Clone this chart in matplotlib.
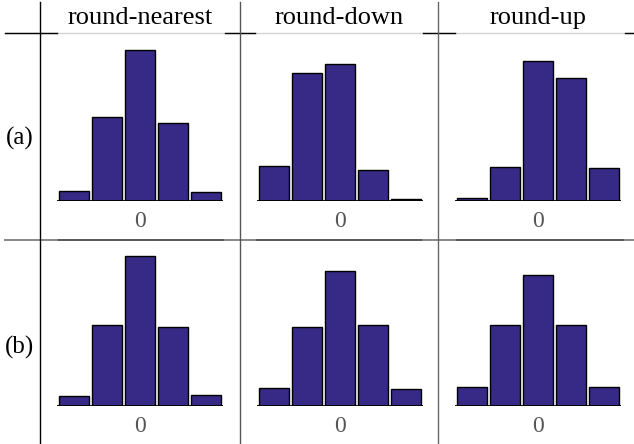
import numpy as np
import matplotlib
matplotlib.use("Agg")
import matplotlib.pyplot as plt
from matplotlib.lines import Line2D

plt.rcParams['font.family'] = ['Liberation Serif', 'DejaVu Serif']

columns = ['round-nearest', 'round-down', 'round-up']
rows = ['(a)', '(b)']
bins = [-2, -1, 0, 1, 2]

# bar heights (arbitrary units)
a_nearest = [10, 84, 151, 78, 9]
a_down = [35, 128, 137, 31, 2]
a_up = [3, 34, 140, 123, 33]
b_nearest = [10, 81, 150, 79, 11]
b_down = [18, 79, 135, 81, 17]
b_up = [19, 81, 131, 81, 19]

data = [[a_nearest, a_down, a_up],
        [b_nearest, b_down, b_up]]

W, H = 634, 444
fig = plt.figure(figsize=(W/100, H/100), dpi=100)

def fx(x):
    return x / W

def fy(y):
    return 1 - y / H

bar_color = '#362a86'
cell_left = [57, 257, 455]
baselines = [201, 406]
col_center = [140, 339, 538]
row_center = [138, 347]

for i in range(2):
    for j in range(3):
        ax = fig.add_axes([fx(cell_left[j]), fy(baselines[i]), 166/W, 160/H])
        ax.bar(bins, data[i][j], width=0.9, color=bar_color,
               edgecolor='black', linewidth=1.0, zorder=2)
        ax.axhline(0, color='black', lw=1.3, zorder=3)
        ax.set_xlim(-2.5, 2.5)
        ax.set_ylim(0, 160)
        ax.set_xticks([0])
        ax.set_xticklabels(['0'], color='#555555', fontsize=17)
        ax.tick_params(axis='x', length=0, pad=7)
        ax.set_yticks([])
        for s in ax.spines.values():
            s.set_visible(False)
        ax.patch.set_visible(False)

for j, name in enumerate(columns):
    fig.text(fx(col_center[j]), fy(24), name, ha='center', va='baseline', fontsize=19)
for i, name in enumerate(rows):
    fig.text(fx(20), fy(row_center[i]), name, ha='center', va='center', fontsize=18)

def hline(y, x0, x1, color, lw=1.0):
    fig.add_artist(Line2D([fx(x0), fx(x1)], [fy(y), fy(y)], color=color, lw=lw))

def vline(x, y0, y1, color, lw=1.0):
    fig.add_artist(Line2D([fx(x), fx(x)], [fy(y0), fy(y1)], color=color, lw=lw))

segs = [(5, 57), (225, 255), (423, 455), (625, 634)]

hline(33, 5, 634, '#d4d4d4', 1.0)
for a, b in segs:
    hline(33, a, b, 'black', 1.0)

hline(240, 5, 634, '#2a2a2a', 1.1)
for a, b in segs:
    hline(240, a, b, '#999999', 1.1)

vline(40, 2, 444, 'black', 1.0)
vline(240, 2, 444, '#555555', 1.0)
vline(438, 2, 444, '#666666', 1.0)

fig.savefig('out.png', dpi=100)
